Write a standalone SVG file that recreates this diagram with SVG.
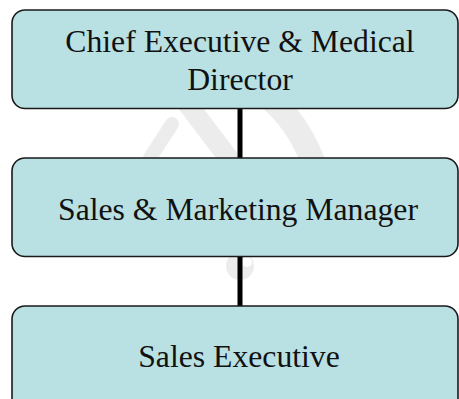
<svg xmlns="http://www.w3.org/2000/svg" width="459" height="399" viewBox="0 0 459 399">
  <style>
    .box { fill: #b9e0e3; stroke: #1a1a1a; stroke-width: 1.6; }
    .label { font-size: 31.7px; fill: #111; text-anchor: middle; }
    .link { stroke: #000; stroke-width: 5; }
    .mark { fill: none; stroke: #ececec; stroke-linecap: round; }
  </style>
  <rect width="459" height="399" fill="#fff"/>
  <!-- faint background emblem -->
  <g id="emblem">
    <path class="mark" d="M262,92 Q300,120 318,175" stroke-width="24"/>
    <path class="mark" d="M186,102 L230,160" stroke-width="20"/>
    <path class="mark" d="M150,158 L172,124" stroke-width="14"/>
    <circle cx="240" cy="266" r="14" fill="#ececec"/>
    <circle cx="247" cy="262" r="5" fill="#fff"/>
  </g>
  <g id="connectors">
    <line class="link" x1="240" y1="108" x2="240" y2="159"/>
    <line class="link" x1="240" y1="256" x2="240" y2="307"/>
  </g>
  <g font-family="Liberation Serif, serif">
    <g id="ceo">
      <rect class="box" x="12" y="10" width="446" height="98.5" rx="13"/>
      <text class="label" x="240" y="52">Chief Executive &amp; Medical</text>
      <text class="label" x="240" y="90">Director</text>
    </g>
    <g id="sales-marketing-manager">
      <rect class="box" x="12" y="158" width="446" height="98.5" rx="13"/>
      <text class="label" x="238" y="220">Sales &amp; Marketing Manager</text>
    </g>
    <g id="sales-executive">
      <rect class="box" x="12" y="306" width="446" height="110" rx="13"/>
      <text class="label" x="239" y="367">Sales Executive</text>
    </g>
  </g>
</svg>
